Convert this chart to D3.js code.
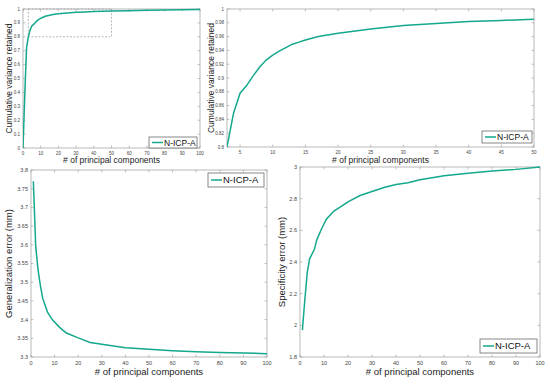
<!DOCTYPE html>
<html>
<head>
<meta charset="utf-8">
<script src="https://cdn.jsdelivr.net/npm/d3@7"></script>
<style>
  body { margin: 0; background: #fff; }
  svg { display: block; font-family: "Liberation Sans", Arial, sans-serif; }
</style>
</head>
<body>
<svg width="550" height="386"></svg>
<script>
// cumulative variance retained
var varComps = [0, 1, 2, 3, 4, 5, 6, 7, 8, 9, 10, 11, 12, 13, 14, 15, 17, 20, 25, 30, 35, 40, 45, 50, 60, 70, 80, 90, 100];
var varValues = [0, 0.38, 0.72, 0.80, 0.849, 0.878, 0.889, 0.903, 0.916, 0.926, 0.933, 0.939, 0.944, 0.949, 0.952, 0.955, 0.960, 0.965, 0.971, 0.976, 0.979, 0.982, 0.9835, 0.985, 0.988, 0.991, 0.993, 0.995, 0.997];

// generalization error (mm)
var genComps = [1, 2, 3, 4, 5, 7, 9, 12, 15, 20, 25, 30, 40, 50, 60, 70, 80, 90, 100];
var genValues = [3.77, 3.595, 3.532, 3.49, 3.456, 3.42, 3.40, 3.38, 3.364, 3.351, 3.339, 3.334, 3.325, 3.321, 3.317, 3.314, 3.312, 3.311, 3.309];

// specificity error (mm)
var specComps = [1, 2, 3, 4, 6, 7, 9, 11, 14, 17, 20, 25, 30, 35, 40, 45, 50, 60, 70, 80, 90, 100];
var specValues = [1.97, 2.16, 2.33, 2.42, 2.48, 2.54, 2.61, 2.67, 2.72, 2.75, 2.78, 2.82, 2.845, 2.87, 2.89, 2.90, 2.92, 2.945, 2.96, 2.975, 2.985, 3.0];

var xTicks100 = [0, 10, 20, 30, 40, 50, 60, 70, 80, 90, 100];
var xTicksZoom = [5, 10, 15, 20, 25, 30, 35, 40, 45, 50];
var yTicksVar = [0, 0.1, 0.2, 0.3, 0.4, 0.5, 0.6, 0.7, 0.8, 0.9, 1];
var yTicksVarZoom = [0.8, 0.82, 0.84, 0.86, 0.88, 0.9, 0.92, 0.94, 0.96, 0.98, 1];
var yTicksGen = [3.3, 3.35, 3.4, 3.45, 3.5, 3.55, 3.6, 3.65, 3.7, 3.75, 3.8];
var yTicksSpec = [1.8, 2, 2.2, 2.4, 2.6, 2.8, 3];

var seriesName = "N-ICP-A";
var lineColor = "#14a88c";

var svg = d3.select("svg");
var panelCount = 0;

function panel(o) {
  var x = d3.scaleLinear().domain(o.xDomain).range([o.left, o.right]);
  var y = d3.scaleLinear().domain(o.yDomain).range([o.bottom, o.top]);
  var g = svg.append("g");
  var tl = 2.5;
  var clipId = "clip" + (panelCount++);

  g.append("clipPath").attr("id", clipId)
    .append("rect")
    .attr("x", o.left).attr("y", o.top - 1)
    .attr("width", o.right - o.left).attr("height", o.bottom - o.top + 1);

  // box
  g.append("rect")
    .attr("x", o.left).attr("y", o.top)
    .attr("width", o.right - o.left).attr("height", o.bottom - o.top)
    .attr("fill", "none").attr("stroke", "#9a9a9a").attr("stroke-width", 0.7);

  // ticks (inward, all four sides) and labels
  o.xTicks.forEach(function(t) {
    g.append("line").attr("x1", x(t)).attr("x2", x(t)).attr("y1", o.bottom).attr("y2", o.bottom - tl)
      .attr("stroke", "#9a9a9a").attr("stroke-width", 0.6);
    g.append("line").attr("x1", x(t)).attr("x2", x(t)).attr("y1", o.top).attr("y2", o.top + tl)
      .attr("stroke", "#9a9a9a").attr("stroke-width", 0.6);
    g.append("text").attr("x", x(t)).attr("y", o.bottom + o.tickFont + 2)
      .attr("text-anchor", "middle").attr("font-size", o.tickFont).attr("fill", "#444")
      .text(d3.format("~g")(t));
  });
  o.yTicks.forEach(function(t) {
    g.append("line").attr("x1", o.left).attr("x2", o.left + tl).attr("y1", y(t)).attr("y2", y(t))
      .attr("stroke", "#9a9a9a").attr("stroke-width", 0.6);
    g.append("line").attr("x1", o.right).attr("x2", o.right - tl).attr("y1", y(t)).attr("y2", y(t))
      .attr("stroke", "#9a9a9a").attr("stroke-width", 0.6);
    g.append("text").attr("x", o.left - 3).attr("y", y(t)).attr("dy", "0.35em")
      .attr("text-anchor", "end").attr("font-size", o.tickFont).attr("fill", "#444")
      .text(d3.format("~g")(t));
  });

  // dashed zoom box
  if (o.zoomBox) {
    g.append("rect")
      .attr("x", x(o.zoomBox[0])).attr("y", y(o.zoomBox[3]))
      .attr("width", x(o.zoomBox[1]) - x(o.zoomBox[0]))
      .attr("height", y(o.zoomBox[2]) - y(o.zoomBox[3]))
      .attr("fill", "none").attr("stroke", "#999").attr("stroke-width", 0.7)
      .attr("stroke-dasharray", "2,1.5");
  }

  // line
  var pts = o.xs.map(function(v, i) { return [v, o.ys[i]]; });
  g.append("path").datum(pts)
    .attr("clip-path", "url(#" + clipId + ")")
    .attr("fill", "none").attr("stroke", lineColor).attr("stroke-width", 1.5)
    .attr("d", d3.line().x(function(p) { return x(p[0]); }).y(function(p) { return y(p[1]); }));

  // axis labels
  g.append("text").attr("x", (o.left + o.right) / 2).attr("y", o.xLabelY)
    .attr("text-anchor", "middle").attr("font-size", o.labelFont).attr("fill", "#222")
    .text("# of principal components");
  g.append("text")
    .attr("transform", "translate(" + o.yLabelX + "," + ((o.top + o.bottom) / 2) + ") rotate(-90)")
    .attr("text-anchor", "middle").attr("font-size", o.labelFont).attr("fill", "#222")
    .text(o.yLabel);

  // legend
  var L = o.legend;
  g.append("rect").attr("x", L[0]).attr("y", L[1]).attr("width", L[2]).attr("height", L[3])
    .attr("fill", "#fff").attr("stroke", "#555").attr("stroke-width", 0.7);
  g.append("line").attr("x1", L[0] + 3).attr("x2", L[0] + 14)
    .attr("y1", L[1] + L[3] / 2).attr("y2", L[1] + L[3] / 2)
    .attr("stroke", lineColor).attr("stroke-width", 1.5);
  g.append("text").attr("x", L[0] + 15).attr("y", L[1] + L[3] / 2).attr("dy", "0.36em")
    .attr("font-size", o.legendFont).attr("fill", "#111").text(seriesName);
}

panel({
  xs: varComps, ys: varValues, xDomain: [0, 100], yDomain: [0, 1],
  left: 23, right: 200, top: 9, bottom: 148,
  xTicks: xTicks100, yTicks: yTicksVar, tickFont: 4.5, labelFont: 8.5, legendFont: 8.5,
  xLabelY: 163, yLabelX: 12, yLabel: "Cumulative variance retained",
  zoomBox: [3, 50, 0.8, 1], legend: [149, 137, 48, 11]
});

panel({
  xs: varComps, ys: varValues, xDomain: [3, 50], yDomain: [0.8, 1],
  left: 227, right: 534, top: 9, bottom: 147,
  xTicks: xTicksZoom, yTicks: yTicksVarZoom, tickFont: 4.5, labelFont: 8.5, legendFont: 8.5,
  xLabelY: 163, yLabelX: 214, yLabel: "Cumulative variance retained",
  legend: [482, 131, 50, 12]
});

panel({
  xs: genComps, ys: genValues, xDomain: [0, 100], yDomain: [3.3, 3.8],
  left: 31, right: 267, top: 170, bottom: 357,
  xTicks: xTicks100, yTicks: yTicksGen, tickFont: 5.5, labelFont: 9.5, legendFont: 9.5,
  xLabelY: 375, yLabelX: 12, yLabel: "Generalization error (mm)",
  legend: [208, 173, 56, 14]
});

panel({
  xs: specComps, ys: specValues, xDomain: [0, 100], yDomain: [1.8, 3],
  left: 300, right: 540, top: 167, bottom: 357,
  xTicks: xTicks100, yTicks: yTicksSpec, tickFont: 5.5, labelFont: 9.5, legendFont: 9.5,
  xLabelY: 375, yLabelX: 285, yLabel: "Specificity error (mm)",
  legend: [480, 339, 57, 14]
});
</script>
</body>
</html>
